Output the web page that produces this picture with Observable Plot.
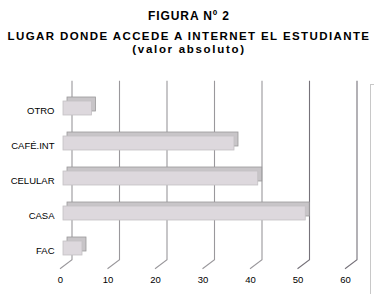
<!DOCTYPE html>
<html><head><meta charset="utf-8">
<script src="https://cdn.jsdelivr.net/npm/d3@7"></script>
<script src="https://cdn.jsdelivr.net/npm/@observablehq/plot@0.6"></script>
<style>
body{margin:0;background:#fff;}
#wrap{position:relative;width:378px;height:302px;overflow:hidden;font-family:"Liberation Sans",Arial,sans-serif;background:#fff;}
.t{position:absolute;left:0;width:378px;text-align:center;font-weight:bold;font-size:12px;line-height:10px;height:10px;color:#000;white-space:nowrap;}
#chart{position:absolute;left:0;top:62px;}
#edge{position:absolute;left:370px;top:84px;width:3px;height:209px;border-left:1px solid #c8c8c8;border-top:1px solid #c8c8c8;}
</style></head><body>
<div id="wrap">
<div class="t" style="top:11px;letter-spacing:0.9px;">FIGURA Nº 2</div>
<div class="t" style="top:31.3px;font-size:11.5px;letter-spacing:1.4px;">LUGAR DONDE ACCEDE A INTERNET EL ESTUDIANTE</div>
<div class="t" style="top:44.3px;font-size:11.5px;letter-spacing:1.7px;">(valor absoluto)</div>
<div id="edge"></div>
<div id="chart"></div>
</div>
<script>
const categories = ["OTRO", "CAFÉ.INT", "CELULAR", "CASA", "FAC"];
const values = [6, 36, 41, 51, 4];
const xTicks = [0, 10, 20, 30, 40, 50, 60];

const data = categories.map((c, i) => ({cat: c, value: values[i]}));
const ns = "http://www.w3.org/2000/svg";

function gridRender(index, scales, vals, dims) {
  const g = document.createElementNS(ns, "g");
  const top = dims.marginTop - 8;
  const bottom = dims.height - dims.marginBottom - 7;
  for (const i of index) {
    const x = vals.x[i];
    const p = document.createElementNS(ns, "path");
    p.setAttribute("d", `M${x + 9},${top}V${bottom}L${x - 3},${bottom + 9}`);
    p.setAttribute("fill", "none");
    p.setAttribute("stroke", xTicks[i] >= 50 ? "#76727a" : "#9a989c");
    p.setAttribute("stroke-width", 1.1);
    g.appendChild(p);
  }
  return g;
}

const chart = Plot.plot({
  width: 378,
  height: 240,
  marginLeft: 63,
  marginRight: 30,
  marginTop: 26.7,
  marginBottom: 35.3,
  style: {fontFamily: "'Liberation Sans', Arial, sans-serif", fontSize: "9.5px", color: "#000", background: "transparent", overflow: "visible"},
  x: {domain: [0, 60]},
  y: {type: "band", domain: categories, paddingInner: 0.6, paddingOuter: 0.3},
  marks: [
    Plot.ruleX(xTicks, {x: d => d, render: gridRender}),
    Plot.barX(data, {x: "value", y: "cat", fill: "#c8c5c8", stroke: "#9a989a", strokeWidth: 0.8, dx: 4, dy: -4}),
    Plot.ruleX(data, {x: "value", y: "cat", stroke: "#8a878a", strokeWidth: 4, dx: 2, dy: -2}),
    Plot.barX(data, {x: "value", y: "cat", fill: "#ddd8dd", stroke: "#c4c0c4", strokeWidth: 0.8}),
    Plot.axisY({tickSize: 0, tickPadding: 9, dy: 2.8, label: null}),
    Plot.axisX(xTicks, {tickSize: 0, tickPadding: 9, dx: -3, label: null})
  ]
});
document.getElementById("chart").appendChild(chart);
</script>
</body></html>
